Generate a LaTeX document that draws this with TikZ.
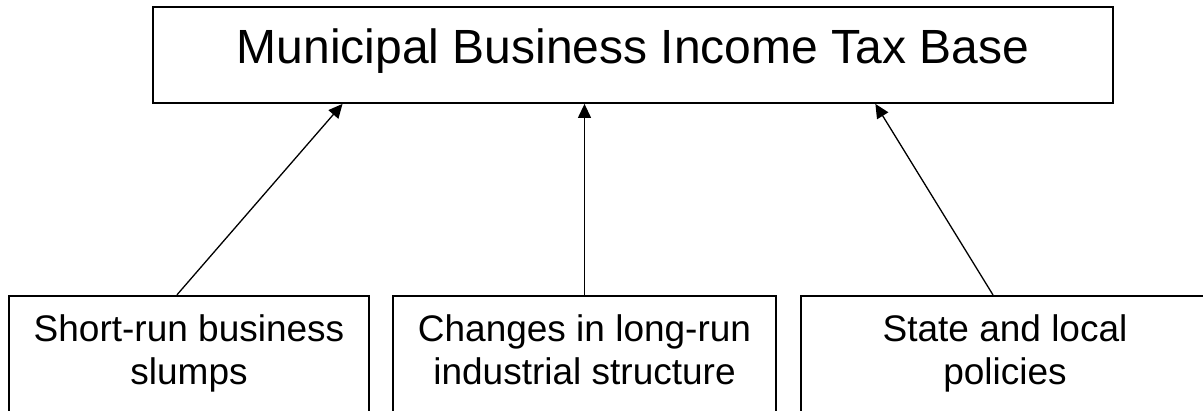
\documentclass[tikz,border=0pt]{standalone}
\usepackage{fontspec}
\setmainfont{Liberation Sans}
\usetikzlibrary{arrows.meta,calc}
\tikzset{
  topbox/.style={draw, line width=1.8pt, minimum width=960pt, minimum height=96pt,
    inner xsep=0pt, inner ysep=16pt, text height=40pt, text depth=24pt,
    font=\fontsize{48pt}{55pt}\selectfont},
  causebox/.style={draw, line width=1.8pt, minimum height=117.5pt, inner sep=0pt,
    align=center, font=\fontsize{37pt}{42.5pt}\selectfont},
  link/.style={line width=1.3pt, -{Triangle[length=14pt,width=13pt]}}
}
\begin{document}
\begin{tikzpicture}[x=1pt,y=-1pt]
\useasboundingbox (0,0) rectangle (1203,410);
\clip (0,0) rectangle (1203,410);
\node[topbox] (top) at (633,55) {Municipal Business Income Tax Base};
\node[causebox, minimum width=360pt] (b1) at (189,354.5) {\strut Short-run business\\\strut slumps};
\node[causebox, minimum width=383pt] (b2) at (584.5,354.5) {\strut Changes in long-run\\\strut industrial structure};
\node[causebox, minimum width=408pt] (b3) at (1005,354.5) {\strut State and local\\\strut policies};
\draw[link] ($(b1.north west)!0.4667!(b1.north east)$) -- ($(top.south west)!0.198!(top.south east)$);
\draw[link] (b2.north) -- (b2.north |- top.south);
\draw[link] ($(b3.north west)!0.4706!(b3.north east)$) -- ($(top.south west)!0.752!(top.south east)$);
\end{tikzpicture}
\end{document}
